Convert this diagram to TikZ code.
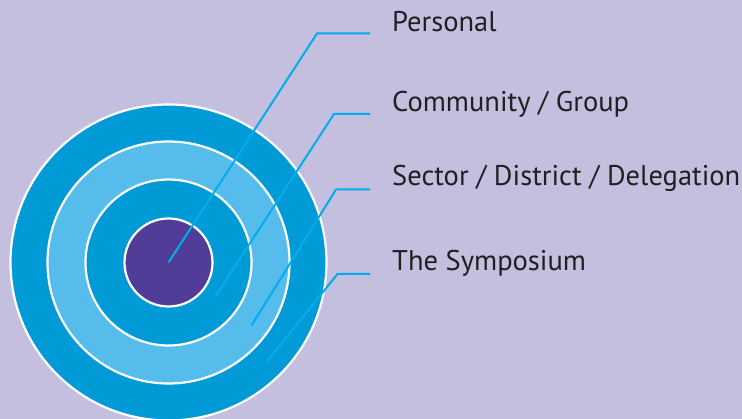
\documentclass[tikz,border=0pt]{standalone}
\usepackage{fontspec}
\setmainfont{PT Sans}
\definecolor{lavender}{RGB}{196, 190, 223}
\definecolor{ringdark}{RGB}{0, 155, 214}
\definecolor{ringlight}{RGB}{86, 188, 236}
\definecolor{corepurple}{RGB}{81, 61, 151}
\definecolor{leadercyan}{RGB}{0, 174, 239}
\definecolor{labelgray}{RGB}{35, 31, 32}
\usetikzlibrary{
  calc,
  positioning,
}
\tikzset{
  ring/.style={draw=white, line width=2.2pt},
  leader/.style={leadercyan, line width=2pt, line join=miter},
  levellabel/.style={anchor=base west, inner sep=0pt, text=labelgray,
                     font=\fontsize{28.5}{32}\selectfont},
}

\begin{document}
\begin{tikzpicture}[x=1pt, y=-1pt]
      \fill [lavender] (0,0) rectangle (742,419);
      \useasboundingbox (0,0) rectangle (742,419);
      \coordinate (centre) at (168.5,262.5);
      % rings, outside in
      \fill [ring, fill=ringdark] (centre) circle (158);
      \fill [ring, fill=ringlight] (centre) circle (121);
      \fill [ring, fill=ringdark] (centre) circle (83);
      \fill [ring, fill=corepurple] (centre) circle (44);
      % labels
      \node [levellabel] at (392,32) (personal) {Personal};
      \node [levellabel] at (392,111.5) (community) {Community / Group};
      \node [levellabel] at (392,186) (sector) {Sector / District / Delegation};
      \node [levellabel] at (392,271) (symposium) {The Symposium};
      % leader lines
      \coordinate (personal-in) at (centre);
      \coordinate (personal-bend) at (317,33.5);
      \coordinate (personal-end) at (370,33.5);
      \coordinate (community-in) at (215,297);
      \coordinate (community-bend) at (334,114);
      \coordinate (community-end) at (370,114);
      \coordinate (sector-in) at (251.5,325.5);
      \coordinate (sector-bend) at (336,189.5);
      \coordinate (sector-end) at (370,189.5);
      \coordinate (symposium-in) at (266.5,362);
      \coordinate (symposium-bend) at (337.5,274);
      \coordinate (symposium-end) at (370,274);
      \draw [leader] (personal-in) -- (personal-bend) -- (personal-end);
      \draw [leader] (community-in) -- (community-bend) -- (community-end);
      \draw [leader] (sector-in) -- (sector-bend) -- (sector-end);
      \draw [leader] (symposium-in) -- (symposium-bend) -- (symposium-end);
\end{tikzpicture}
\end{document}
